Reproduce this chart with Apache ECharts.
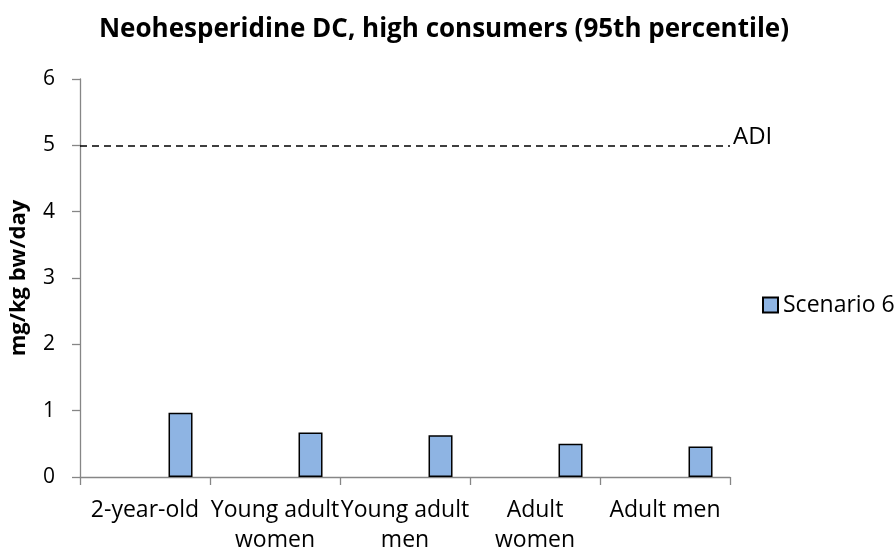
<!DOCTYPE html>
<html>
<head>
<meta charset="utf-8">
<script src="https://cdn.jsdelivr.net/npm/echarts@6/dist/echarts.min.js"></script>
<style>
  html, body { margin: 0; padding: 0; background: #fff; }
  #chart { width: 894px; height: 555px; }
</style>
</head>
<body>
<div id="chart"></div>
<script>
// Population groups on the category axis
const categories = ['2-year-old', 'Young adult\nwomen', 'Young adult\nmen', 'Adult\nwomen', 'Adult men'];
// Intake at the 95th percentile, mg/kg bw/day
const scenario6 = [0.97, 0.67, 0.63, 0.50, 0.46];
// Empty companion slot so the bars sit right of each category centre
const emptySlot = [null, null, null, null, null];
// Acceptable daily intake
const adiValue = 5;
const yTicks = [0, 1, 2, 3, 4, 5, 6];

const FONT = '"Open Sans", "Noto Sans", sans-serif';
const chart = echarts.init(document.getElementById('chart'));

chart.setOption({
  animation: false,
  textStyle: { fontFamily: FONT },
  title: {
    text: 'Neohesperidine DC, high consumers (95th percentile)',
    left: 439,
    textAlign: 'center',
    top: 12,
    textStyle: { fontFamily: FONT, fontSize: 26, fontWeight: 'bold', color: '#000' }
  },
  legend: {
    data: ['Scenario 6'],
    orient: 'vertical',
    left: 757,
    top: 286,
    itemWidth: 15,
    itemHeight: 15,
    itemGap: 6,
    icon: 'rect',
    textStyle: { fontFamily: FONT, fontSize: 23, lineHeight: 28, color: '#000' }
  },
  grid: { left: 80, right: 164, top: 79, bottom: 78, containLabel: false },
  xAxis: {
    type: 'category',
    data: categories,
    axisLine: { lineStyle: { color: '#868686', width: 1.3 } },
    axisTick: { show: true, length: 8, lineStyle: { color: '#868686', width: 1.3 } },
    axisLabel: { color: '#000', fontSize: 23, fontFamily: FONT, margin: 18, lineHeight: 30, interval: 0 }
  },
  yAxis: {
    type: 'value',
    min: yTicks[0],
    max: yTicks[yTicks.length - 1],
    interval: 1,
    name: 'mg/kg bw/day',
    nameLocation: 'middle',
    nameGap: 50,
    nameTextStyle: { fontFamily: FONT, fontSize: 22, fontWeight: 'bold', color: '#000' },
    axisLine: { show: true, lineStyle: { color: '#868686', width: 1.3 } },
    axisTick: { show: true, length: 8, lineStyle: { color: '#868686', width: 1.3 } },
    axisLabel: { color: '#000', fontSize: 21, fontFamily: FONT, margin: 25 },
    splitLine: { show: false }
  },
  series: [
    {
      name: '',
      type: 'bar',
      data: emptySlot,
      barWidth: 24,
      barGap: '196%',
      silent: true
    },
    {
      name: 'Scenario 6',
      type: 'bar',
      data: scenario6,
      barWidth: 24,
      barGap: '196%',
      itemStyle: { color: '#8EB4E3', borderColor: '#000', borderWidth: 1.5 },
      markLine: {
        silent: true,
        symbol: ['none', 'none'],
        lineStyle: { color: '#000', type: [7, 5], width: 1.5 },
        label: {
          show: true,
          position: 'end',
          formatter: '{a|ADI}',
          distance: 3,
          rich: {
            a: {
              fontFamily: FONT,
              fontSize: 24,
              color: '#000',
              padding: [0, 0, 16, 0]
            }
          }
        },
        data: [{ yAxis: adiValue }]
      }
    }
  ]
});
</script>
</body>
</html>
